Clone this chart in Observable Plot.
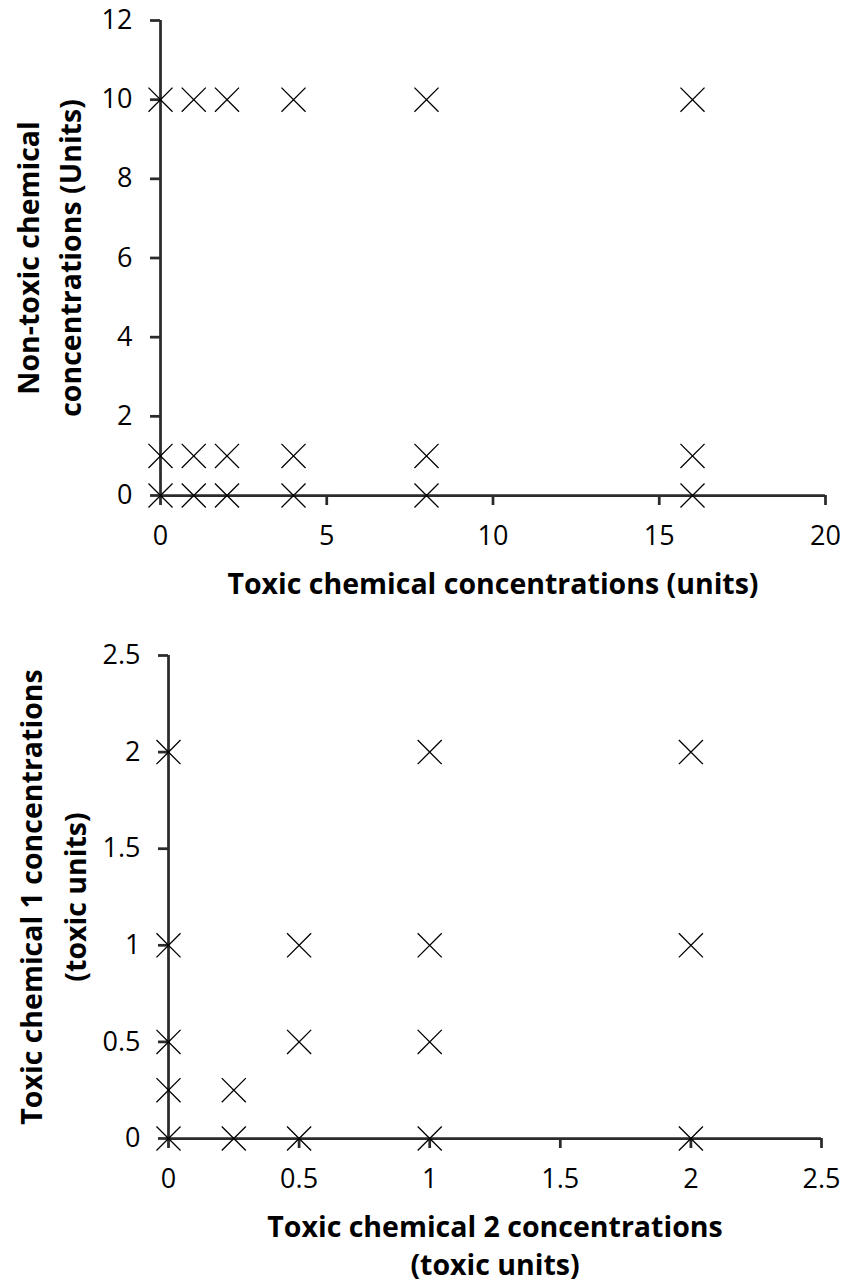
<!DOCTYPE html>
<html>
<head>
<meta charset="utf-8">
<script src="https://cdn.jsdelivr.net/npm/d3@7"></script>
<script src="https://cdn.jsdelivr.net/npm/@observablehq/plot@0.6"></script>
<style>
  html, body { margin: 0; padding: 0; background: #fff; }
  #wrap { width: 848px; }
  #wrap svg { display: block; }
</style>
</head>
<body>
<div id="wrap"></div>
<script>
// ---- Panel A data ----
const panelA_toxic    = [0, 1, 2, 4, 8, 16,  0, 1, 2, 4, 8, 16,  0, 1, 2, 4, 8, 16];
const panelA_nontoxic = [10, 10, 10, 10, 10, 10,  1, 1, 1, 1, 1, 1,  0, 0, 0, 0, 0, 0];
const panelA_xTicks = [0, 5, 10, 15, 20];
const panelA_yTicks = [0, 2, 4, 6, 8, 10, 12];
const panelA_xTitle = "Toxic chemical concentrations (units)";
const panelA_yTitle = ["Non-toxic chemical", "concentrations (Units)"];

// ---- Panel B data ----
const panelB_chem2 = [0, 1, 2,  0, 0.5, 1, 2,  0, 0.5, 1,  0, 0.25,  0, 0.25, 0.5, 1, 2];
const panelB_chem1 = [2, 2, 2,  1, 1, 1, 1,  0.5, 0.5, 0.5,  0.25, 0.25,  0, 0, 0, 0, 0];
const panelB_xTicks = [0, 0.5, 1, 1.5, 2, 2.5];
const panelB_yTicks = [0, 0.5, 1, 1.5, 2, 2.5];
const panelB_xTitle = ["Toxic chemical 2 concentrations", "(toxic units)"];
const panelB_yTitle = ["Toxic chemical 1 concentrations", "(toxic units)"];

const FONT = "'Open Sans', sans-serif";
const AXIS = "#2b2b2b";
const TICKFS = 27;
const TITLEFS = 28.5;

const dataA = panelA_toxic.map((x, i) => ({x, y: panelA_nontoxic[i]}));
const dataB = panelB_chem2.map((x, i) => ({x, y: panelB_chem1[i]}));

function panel({data, xDomain, yDomain, xTicks, yTicks, width, height, margins, yTitle, yTitleDx, xTitle, xTitleDy}) {
  const marks = [
    Plot.ruleX([0], {stroke: AXIS, strokeWidth: 2.75}),
    Plot.ruleY([0], {stroke: AXIS, strokeWidth: 2.75}),
    Plot.axisX({ticks: xTicks, tickFormat: d => String(d), tickSize: 10, tickPadding: 20, stroke: AXIS, strokeWidth: 2.75, fill: "black", fontSize: TICKFS, label: null}),
    Plot.axisY({ticks: yTicks, tickFormat: d => String(d), tickSize: 10, tickPadding: 18, stroke: AXIS, strokeWidth: 2.75, fill: "black", fontSize: TICKFS, label: null}),
    Plot.dot(data, {x: "x", y: "y", symbol: "times", r: 11, stroke: "black", strokeWidth: 1.3})
  ];
  yTitle.forEach((t, i) => {
    marks.push(Plot.text([t], {text: d => d, frameAnchor: "left", rotate: -90, dx: yTitleDx[i], fontSize: TITLEFS, fontWeight: "bold", fill: "black", lineAnchor: "middle", textAnchor: "middle"}));
  });
  xTitle.forEach((t, i) => {
    marks.push(Plot.text([t], {text: d => d, frameAnchor: "bottom", dy: xTitleDy[i], fontSize: TITLEFS, fontWeight: "bold", fill: "black", lineAnchor: "middle", textAnchor: "middle"}));
  });
  return Plot.plot({
    width, height,
    marginLeft: margins[0], marginRight: margins[1], marginTop: margins[2], marginBottom: margins[3],
    style: {fontFamily: FONT, background: "white", overflow: "visible"},
    x: {domain: xDomain, axis: null},
    y: {domain: yDomain, axis: null},
    marks
  });
}

const wrap = document.getElementById("wrap");
wrap.appendChild(panel({
  data: dataA, xDomain: [0, 20], yDomain: [0, 12], xTicks: panelA_xTicks, yTicks: panelA_yTicks,
  width: 848, height: 620, margins: [160, 23, 20, 125],
  yTitle: panelA_yTitle, yTitleDx: [-131, -89],
  xTitle: [panelA_xTitle], xTitleDy: [89]
}));
wrap.appendChild(panel({
  data: dataB, xDomain: [0, 2.5], yDomain: [0, 2.5], xTicks: panelB_xTicks, yTicks: panelB_yTicks,
  width: 848, height: 667, margins: [168, 27, 35, 149],
  yTitle: panelB_yTitle, yTitleDx: [-136, -92],
  xTitle: panelB_xTitle, xTitleDy: [89, 127]
}));
</script>
</body>
</html>
